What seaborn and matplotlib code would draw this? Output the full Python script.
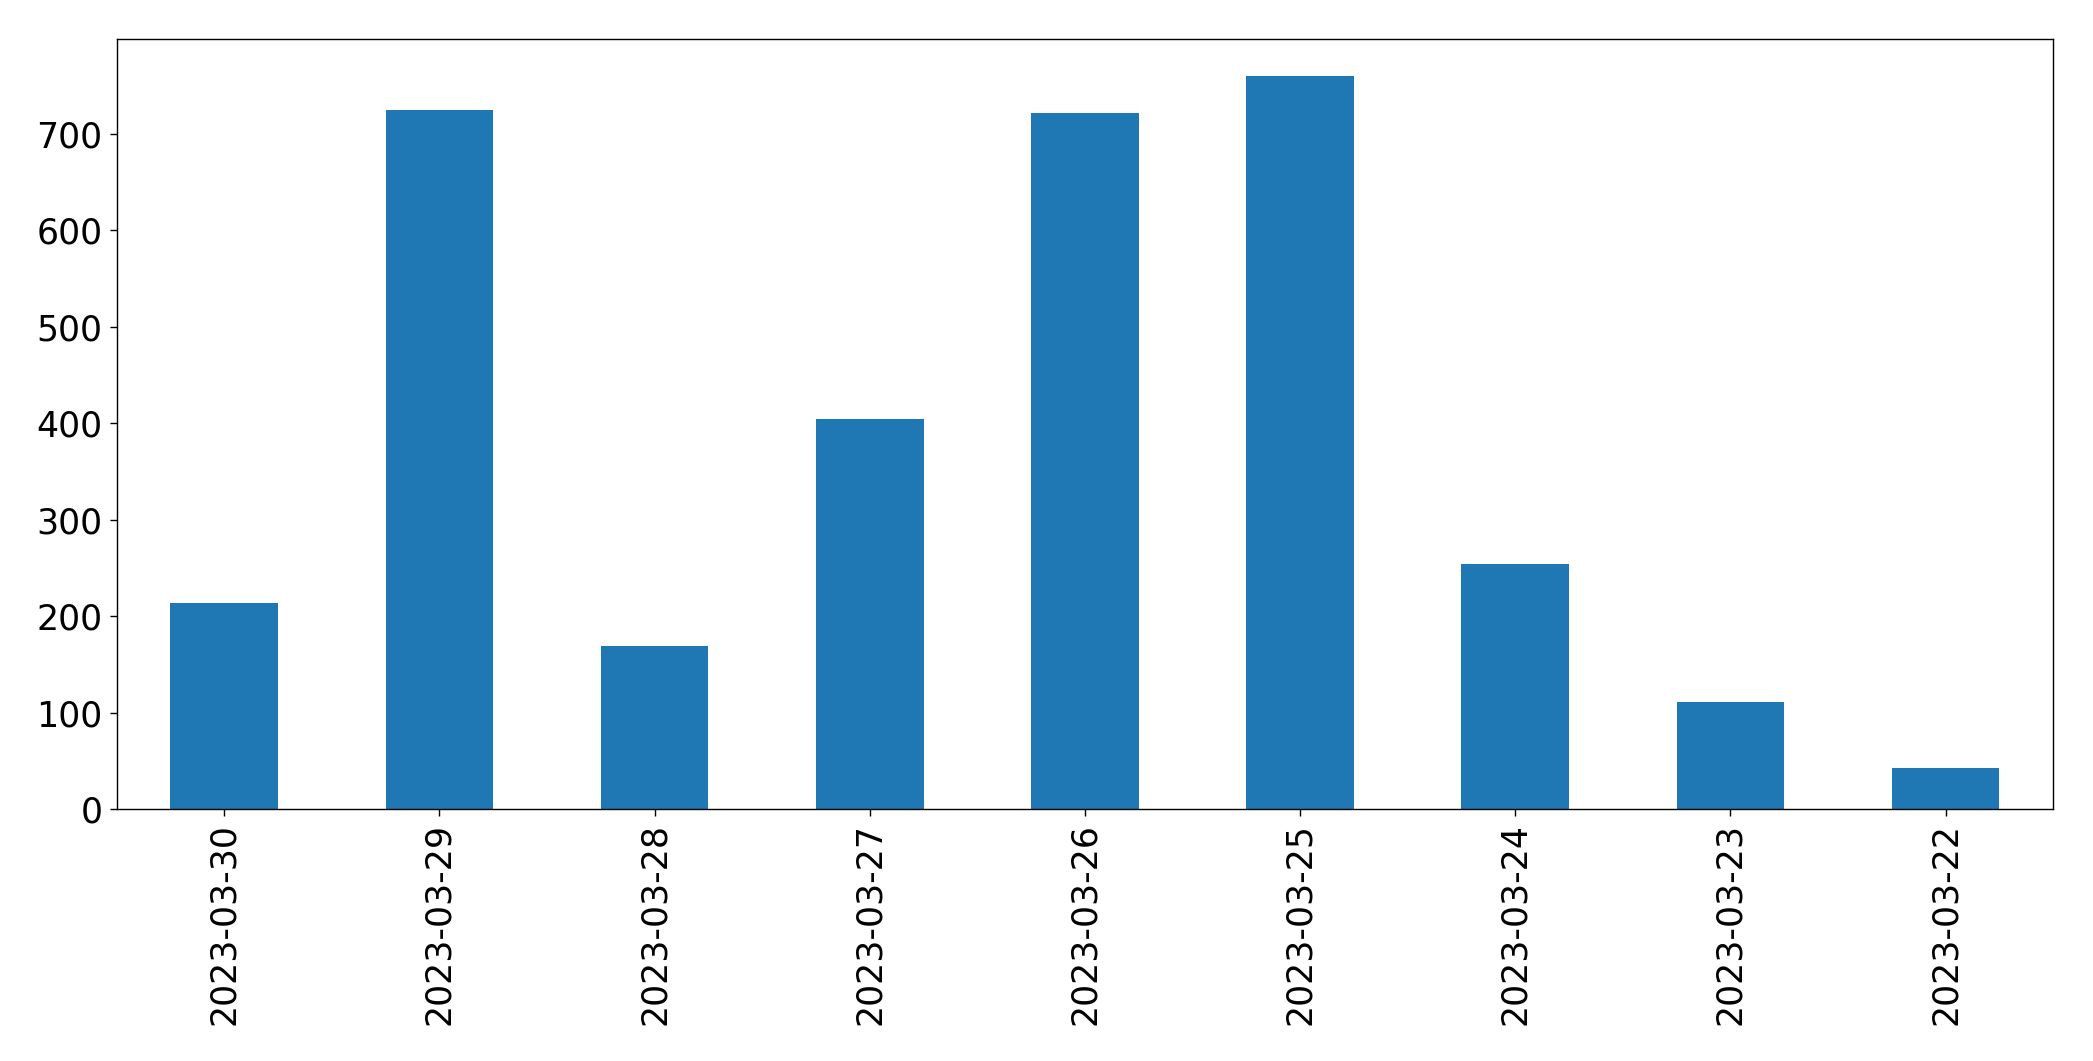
import matplotlib
matplotlib.use("Agg")
import matplotlib.pyplot as plt
import seaborn as sns
import pandas as pd

dates = ["2023-03-30", "2023-03-29", "2023-03-28", "2023-03-27", "2023-03-26",
         "2023-03-25", "2023-03-24", "2023-03-23", "2023-03-22"]
counts = [214, 725, 169, 404, 722, 760, 254, 111, 42]

df = pd.DataFrame({"date": dates, "count": counts})

fig, ax = plt.subplots(figsize=(20.93, 10.61), dpi=100)
sns.barplot(data=df, x="date", y="count", order=dates, color="#1f77b4",
            saturation=1, width=0.5, ax=ax)
ax.set_xlabel("")
ax.set_ylabel("")
ax.set_xlim(-0.5, len(dates) - 0.5)
ax.tick_params(axis="both", labelsize=25, length=5, width=1, pad=5)
ax.tick_params(axis="x", labelrotation=90)
for s in ax.spines.values():
    s.set_visible(True)
    s.set_linewidth(1.0)
    s.set_color("black")
fig.subplots_adjust(left=0.0557, right=0.981, top=0.963, bottom=0.2375)
fig.savefig("out.png", dpi=100)
